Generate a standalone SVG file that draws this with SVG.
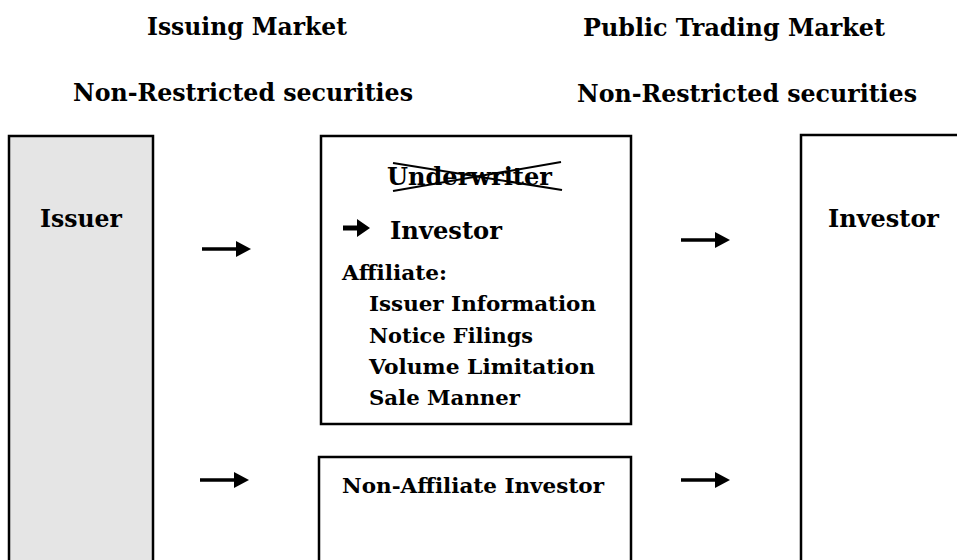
<svg xmlns="http://www.w3.org/2000/svg" width="957" height="560" viewBox="0 0 957 560">
  <style>
    .t { font-family: "DejaVu Serif", "Liberation Serif", serif; font-weight: bold; fill: #000; }
    .h { font-size: 25px; }
    .m { font-size: 21px; }
    .box { fill: #fff; stroke: #000; stroke-width: 2.5; }
    .shaded { fill: #e5e5e5; }
    .shaft { stroke: #000; stroke-width: 3.5; fill: none; }
    .head { fill: #000; }
  </style>

  <rect width="957" height="560" fill="#fff"/>

  <!-- column headings -->
  <g id="headings">
    <text class="t h" x="147" y="35" textLength="200" lengthAdjust="spacingAndGlyphs">Issuing Market</text>
    <text class="t h" x="583" y="36" textLength="302" lengthAdjust="spacingAndGlyphs">Public Trading Market</text>
    <text class="t h" x="73" y="101" textLength="340" lengthAdjust="spacingAndGlyphs">Non-Restricted securities</text>
    <text class="t h" x="577" y="102" textLength="340" lengthAdjust="spacingAndGlyphs">Non-Restricted securities</text>
  </g>

  <!-- issuer column -->
  <g id="issuer">
    <rect class="box shaded" x="9" y="136" width="144" height="440"/>
    <text class="t h" x="40" y="227" textLength="82" lengthAdjust="spacingAndGlyphs">Issuer</text>
  </g>

  <!-- affiliate path -->
  <g id="affiliate">
    <rect class="box" x="321" y="136" width="310" height="288"/>
    <text class="t h" x="387" y="185" textLength="165" lengthAdjust="spacingAndGlyphs">Underwriter</text>
    <line x1="393" y1="191" x2="561" y2="162" stroke="#000" stroke-width="2"/>
    <line x1="393" y1="163" x2="562" y2="190" stroke="#000" stroke-width="2"/>
    <!-- bullet arrow before "Investor" -->
    <path d="M343 225.5 h14 v-6.5 l13 9 l-13 9 v-6.5 h-14 z" fill="#000"/>
    <text class="t h" x="390" y="239" textLength="112" lengthAdjust="spacingAndGlyphs">Investor</text>
    <text class="t m" x="342" y="280" textLength="105" lengthAdjust="spacingAndGlyphs">Affiliate:</text>
    <text class="t m" x="369" y="311" textLength="227" lengthAdjust="spacingAndGlyphs">Issuer Information</text>
    <text class="t m" x="369" y="343" textLength="164" lengthAdjust="spacingAndGlyphs">Notice Filings</text>
    <text class="t m" x="369" y="374" textLength="226" lengthAdjust="spacingAndGlyphs">Volume Limitation</text>
    <text class="t m" x="369" y="405" textLength="151" lengthAdjust="spacingAndGlyphs">Sale Manner</text>
  </g>

  <!-- non-affiliate path -->
  <g id="non-affiliate">
    <rect class="box" x="319" y="457" width="312" height="130"/>
    <text class="t m" x="342" y="493" textLength="262" lengthAdjust="spacingAndGlyphs">Non-Affiliate Investor</text>
  </g>

  <!-- trading market investor -->
  <g id="investor">
    <rect class="box" x="801" y="135" width="200" height="450"/>
    <text class="t h" x="828" y="227" textLength="111" lengthAdjust="spacingAndGlyphs">Investor</text>
  </g>

  <!-- connectors -->
  <g id="connectors">
    <line class="shaft" x1="202" y1="249" x2="238" y2="249"/>
    <polygon class="head" points="236,241 251,249 236,257"/>
    <line class="shaft" x1="200" y1="480" x2="236" y2="480"/>
    <polygon class="head" points="234,472 249,480 234,488"/>
    <line class="shaft" x1="681" y1="240" x2="717" y2="240"/>
    <polygon class="head" points="715,232 730,240 715,248"/>
    <line class="shaft" x1="681" y1="480" x2="717" y2="480"/>
    <polygon class="head" points="715,472 730,480 715,488"/>
  </g>
</svg>
